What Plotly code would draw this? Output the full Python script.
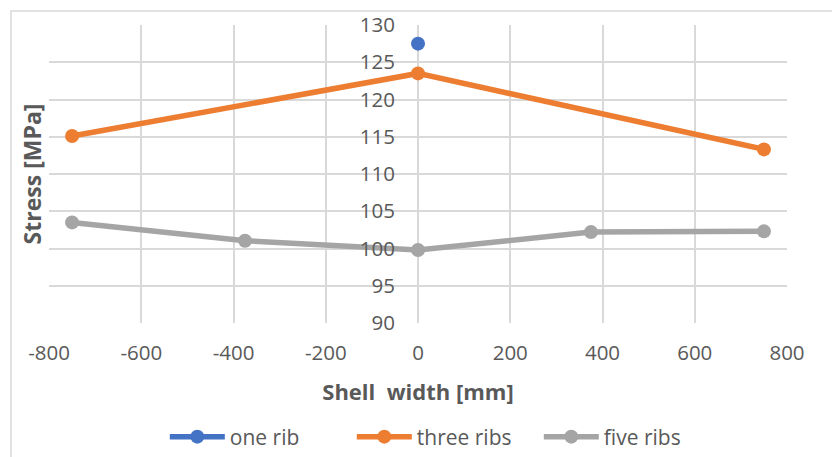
import plotly.graph_objects as go

# Data
x_one = [0]
y_one = [127.5]
x_three = [-750, 0, 750]
y_three = [115.1, 123.5, 113.3]
x_five = [-750, -375, 0, 375, 750]
y_five = [103.5, 101.05, 99.8, 102.2, 102.3]

x_ticks = [-800, -600, -400, -200, 0, 200, 400, 600, 800]
x_ticklabels = [str(v) for v in x_ticks]
y_ticks = [90, 95, 100, 105, 110, 115, 120, 125, 130]

TXT = "#595959"
GRID = "#d9d9d9"
FONT = "Open Sans"

fig = go.Figure()
fig.add_trace(go.Scatter(x=x_one, y=y_one, name="one rib", mode="lines+markers",
                         line=dict(color="#4472C4", width=5.5),
                         marker=dict(color="#4472C4", size=14)))
fig.add_trace(go.Scatter(x=x_three, y=y_three, name="three ribs", mode="lines+markers",
                         line=dict(color="#ED7D31", width=5.5),
                         marker=dict(color="#ED7D31", size=14)))
fig.add_trace(go.Scatter(x=x_five, y=y_five, name="five ribs", mode="lines+markers",
                         line=dict(color="#A5A5A5", width=5.5),
                         marker=dict(color="#A5A5A5", size=14)))

fig.update_layout(
    width=832, height=457,
    margin=dict(l=49, r=45, t=25, b=134, autoexpand=False),
    paper_bgcolor="white", plot_bgcolor="white",
    font=dict(family=FONT, size=20, color=TXT),
    showlegend=True,
    legend=dict(orientation="h", x=0.537, xanchor="center",
                yref="container", y=1 - 437 / 457, yanchor="middle",
                font=dict(size=21, color=TXT), itemwidth=55, entrywidth=117,
                entrywidthmode="pixels"),
    xaxis=dict(range=[-800, 800], tickvals=x_ticks, ticktext=x_ticklabels,
               showgrid=True, gridcolor=GRID, gridwidth=1.5, automargin=False,
               zeroline=False, showline=False, ticks="", ticklabelstandoff=15,
               tickfont=dict(size=20.5),
               title=dict(text="<b>Shell  width [mm]</b>", font=dict(size=22, color=TXT), standoff=20)),
    yaxis=dict(range=[90, 130], tickvals=y_ticks, showgrid=True, gridcolor=GRID, gridwidth=1.5,
               zeroline=False, showline=False, ticks="", anchor="free", position=0.5,
               ticklabelstandoff=23, automargin=False, tickfont=dict(size=20.5),
               title=dict(text="<b>Stress [MPa]</b>", font=dict(size=23, color=TXT), standoff=310)),
    shapes=[dict(type="rect", xref="paper", yref="paper",
                 x0=(11 - 49) / 738, x1=(845 - 49) / 738,
                 y0=(323 - 470) / 298, y1=(323 - 11) / 298,
                 line=dict(color=GRID, width=1.5), fillcolor="rgba(0,0,0,0)", layer="below")],
)

fig.write_html("out.html")
